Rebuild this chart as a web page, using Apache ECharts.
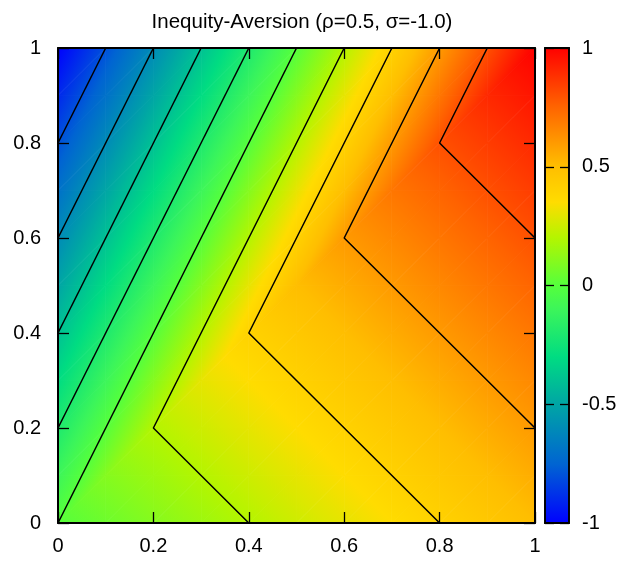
<!DOCTYPE html>
<html>
<head>
<meta charset="utf-8">
<script src="https://cdn.jsdelivr.net/npm/echarts@6/dist/echarts.min.js"></script>
<style>
  html, body { margin: 0; padding: 0; background: #fff; }
  #chart { width: 621px; height: 566px; }
</style>
</head>
<body>
<div id="chart"></div>
<script>
// grid coordinates (0.1 steps)
const xs = [0, 0.1, 0.2, 0.3, 0.4, 0.5, 0.6, 0.7, 0.8, 0.9, 1]
const ys = [0, 0.1, 0.2, 0.3, 0.4, 0.5, 0.6, 0.7, 0.8, 0.9, 1]

// utility values, one row per y (bottom to top)
const zRows = [
  [0, 0.05, 0.1, 0.15, 0.2, 0.25, 0.3, 0.35, 0.4, 0.45, 0.5],
  [-0.1, 0.1, 0.15, 0.2, 0.25, 0.3, 0.35, 0.4, 0.45, 0.5, 0.55],
  [-0.2, 0, 0.2, 0.25, 0.3, 0.35, 0.4, 0.45, 0.5, 0.55, 0.6],
  [-0.3, -0.1, 0.1, 0.3, 0.35, 0.4, 0.45, 0.5, 0.55, 0.6, 0.65],
  [-0.4, -0.2, 0, 0.2, 0.4, 0.45, 0.5, 0.55, 0.6, 0.65, 0.7],
  [-0.5, -0.3, -0.1, 0.1, 0.3, 0.5, 0.55, 0.6, 0.65, 0.7, 0.75],
  [-0.6, -0.4, -0.2, 0, 0.2, 0.4, 0.6, 0.65, 0.7, 0.75, 0.8],
  [-0.7, -0.5, -0.3, -0.1, 0.1, 0.3, 0.5, 0.7, 0.75, 0.8, 0.85],
  [-0.8, -0.6, -0.4, -0.2, 0, 0.2, 0.4, 0.6, 0.8, 0.85, 0.9],
  [-0.9, -0.7, -0.5, -0.3, -0.1, 0.1, 0.3, 0.5, 0.7, 0.9, 0.95],
  [-1, -0.8, -0.6, -0.4, -0.2, 0, 0.2, 0.4, 0.6, 0.8, 1]
]

// contour polylines, levels -0.8 ... 0.8
const contourLevels = [-0.8, -0.6, -0.4, -0.2, 0, 0.2, 0.4, 0.6, 0.8]
const contourLines = [
  [[0, 0.8], [0.1, 1]],
  [[0, 0.6], [0.2, 1]],
  [[0, 0.4], [0.3, 1]],
  [[0, 0.2], [0.4, 1]],
  [[0, 0], [0.5, 1]],
  [[0.4, 0], [0.2, 0.2], [0.6, 1]],
  [[0.8, 0], [0.4, 0.4], [0.7, 1]],
  [[1, 0.2], [0.6, 0.6], [0.8, 1]],
  [[1, 0.6], [0.8, 0.8], [0.9, 1]]
]

const cbTicks = [-1, -0.5, 0, 0.5, 1]

// palette (value -> colour)
const paletteVals = [-1, -0.75, -0.5, -0.3, -0.1, 0, 0.2, 0.35, 0.5, 0.75, 1]
const paletteCols = ['#0000ff', '#0064d2', '#00a5a5', '#00dc82', '#3cf55a', '#55ff3c',
  '#b4f500', '#ffdc00', '#ffbe00', '#ff6400', '#ff0000']

const hexToRgb = h => [1, 3, 5].map(k => parseInt(h.slice(k, k + 2), 16))

// 调色板插值
function colorAt(v) {
  if (v <= paletteVals[0]) return paletteCols[0]
  for (let k = 1; k < paletteVals.length; k++) {
    if (v <= paletteVals[k]) {
      const t = (v - paletteVals[k - 1]) / (paletteVals[k] - paletteVals[k - 1])
      const a = hexToRgb(paletteCols[k - 1])
      const b = hexToRgb(paletteCols[k])
      const c = a.map((x, i) => Math.round(x + (b[i] - x) * t))
      return `rgb(${c[0]},${c[1]},${c[2]})`
    }
  }
  return paletteCols[paletteCols.length - 1]
}

// one item per grid cell
const cells = []
for (let j = 0; j < ys.length - 1; j++) {
  for (let i = 0; i < xs.length - 1; i++) {
    cells.push([xs[i], ys[j], xs[i + 1], ys[j + 1],
      zRows[j][i], zRows[j][i + 1], zRows[j + 1][i], zRows[j + 1][i + 1]])
  }
}

// 三角形线性渐变填充
function triFill(pts, vals) {
  const d1 = [pts[1][0] - pts[0][0], pts[1][1] - pts[0][1]]
  const d2 = [pts[2][0] - pts[0][0], pts[2][1] - pts[0][1]]
  const dv1 = vals[1] - vals[0]
  const dv2 = vals[2] - vals[0]
  const det = d1[0] * d2[1] - d1[1] * d2[0]
  const gx = (dv1 * d2[1] - dv2 * d1[1]) / det
  const gy = (d1[0] * dv2 - d2[0] * dv1) / det
  const g2 = gx * gx + gy * gy
  const vmin = Math.min(...vals)
  const vmax = Math.max(...vals)
  if (g2 < 1e-12 || vmax - vmin < 1e-9) return colorAt(vals[0])
  const s = pts[vals.indexOf(vmin)]
  const k = (vmax - vmin) / g2
  const stops = [{ offset: 0, color: colorAt(vmin) }]
  paletteVals.forEach(b => {
    if (b > vmin && b < vmax) stops.push({ offset: (b - vmin) / (vmax - vmin), color: colorAt(b) })
  })
  stops.push({ offset: 1, color: colorAt(vmax) })
  return new echarts.graphic.LinearGradient(s[0], s[1], s[0] + gx * k, s[1] + gy * k, stops, true)
}

function renderCell(params, api) {
  const p00 = api.coord([api.value(0), api.value(1)])
  const p10 = api.coord([api.value(2), api.value(1)])
  const p01 = api.coord([api.value(0), api.value(3)])
  const p11 = api.coord([api.value(2), api.value(3)])
  const z00 = api.value(4), z10 = api.value(5), z01 = api.value(6), z11 = api.value(7)
  const tris = [
    [[p00, p10, p11], [z00, z10, z11]],
    [[p00, p11, p01], [z00, z11, z01]]
  ]
  return {
    type: 'group',
    children: tris.map(t => {
      const fill = triFill(t[0], t[1])
      return {
        type: 'polygon',
        shape: { points: t[0] },
        style: { fill: fill, stroke: fill, lineWidth: 0.8 }
      }
    })
  }
}

const font = 'Liberation Sans, Arial, sans-serif'
const black = '#000'
const labelSize = 20

const cbGradient = new echarts.graphic.LinearGradient(0, 1, 0, 0,
  paletteVals.map((v, k) => ({ offset: (v + 1) / 2, color: paletteCols[k] })))

const mainAxis = (extra) => Object.assign({
  type: 'value', min: 0, max: 1, interval: 0.2, z: 10,
  axisLine: { show: true, onZero: false, lineStyle: { color: black, width: 2 } },
  axisTick: { show: true, inside: true, length: 11, lineStyle: { color: black, width: 1.3 } },
  splitLine: { show: false },
  axisLabel: { show: true, color: black, fontFamily: font, fontSize: labelSize }
}, extra)

const cbAxis = (extra) => Object.assign({
  type: 'value', gridIndex: 1, min: cbTicks[0], max: cbTicks[cbTicks.length - 1], interval: 0.5, z: 10,
  axisLine: { show: true, onZero: false, lineStyle: { color: black, width: 1.8 } },
  axisTick: { show: true, inside: true, length: 9, lineStyle: { color: black, width: 1.3 } },
  splitLine: { show: false }
}, extra)

const chart = echarts.init(document.getElementById('chart'), null, { renderer: 'canvas' })
chart.setOption({
  animation: false,
  backgroundColor: '#fff',
  title: {
    text: 'Inequity-Aversion (ρ=0.5, σ=-1.0)',
    left: 297, top: 7, textAlign: 'center',
    textStyle: { fontFamily: font, fontSize: 20.5, fontWeight: 'normal', color: black }
  },
  grid: [
    { left: 58, top: 48, width: 477, height: 475 },
    {
      left: 545, top: 48, width: 24, height: 475, show: true,
      backgroundColor: cbGradient, borderColor: black, borderWidth: 1.5
    }
  ],
  xAxis: [
    mainAxis({ gridIndex: 0, position: 'bottom', axisLabel: { color: black, fontFamily: font, fontSize: labelSize, margin: 13 } }),
    mainAxis({ gridIndex: 0, position: 'top', axisLabel: { show: false } }),
    cbAxis({ min: 0, max: 1, interval: 1, position: 'bottom', axisTick: { show: false }, axisLabel: { show: false } }),
    cbAxis({ min: 0, max: 1, interval: 1, position: 'top', axisTick: { show: false }, axisLabel: { show: false } })
  ],
  yAxis: [
    mainAxis({ gridIndex: 0, position: 'left', axisLabel: { color: black, fontFamily: font, fontSize: labelSize, margin: 17 } }),
    mainAxis({ gridIndex: 0, position: 'right', axisLabel: { show: false } }),
    cbAxis({ position: 'right', axisLabel: { color: black, fontFamily: font, fontSize: labelSize, margin: 13 } }),
    cbAxis({ position: 'left', axisLabel: { show: false } })
  ],
  series: [
    {
      type: 'custom',
      xAxisIndex: 0, yAxisIndex: 0,
      renderItem: renderCell,
      data: cells,
      encode: { x: [0, 2], y: [1, 3] },
      silent: true, z: 1
    },
    ...contourLines.map((line, k) => ({
      type: 'line',
      name: String(contourLevels[k]),
      xAxisIndex: 0, yAxisIndex: 0,
      data: line,
      showSymbol: false, symbol: 'none',
      lineStyle: { color: black, width: 1.5 },
      silent: true, z: 3
    }))
  ]
})
</script>
</body>
</html>
